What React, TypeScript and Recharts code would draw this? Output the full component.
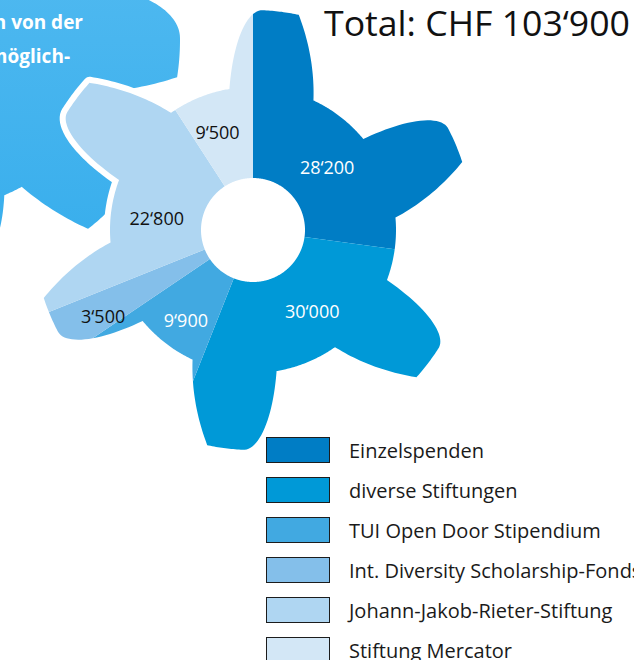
import React from 'react';
import { PieChart, Pie, Cell, Legend } from 'recharts';

const SOURCES = [
  'Einzelspenden',
  'diverse Stiftungen',
  'TUI Open Door Stipendium',
  'Int. Diversity Scholarship-Fonds',
  'Johann-Jakob-Rieter-Stiftung',
  'Stiftung Mercator',
];
const AMOUNTS = [28200, 30000, 9900, 3500, 22800, 9500];
const COLORS = ['#007dc5', '#0099d7', '#41a9e1', '#84bfea', '#afd6f2', '#d3e7f6'];
const LABEL_COLORS = ['#fff', '#fff', '#fff', '#111', '#111', '#111'];
// label nudges (degrees / px from centre), the original places them by hand
const LABEL_SHIFT = [1, -6, -2, -2, -10.5, -3.5];
const LABEL_RADIUS = [97, 100, 112, 173, 97, 104];

const fmt = (n: number) => String(n).replace(/\B(?=(\d{3})+(?!\d))/g, '‘');
const total = AMOUNTS.reduce((a, b) => a + b, 0);

const data = SOURCES.map((name, i) => ({ name, value: AMOUNTS[i] }));
const single = [{ name: 'gear', value: 1 }];

const RAD = Math.PI / 180;

type Profile = { period: number; rise: number; tip: number; fall: number; root: number; phase: number };

// main wheel: 6 teeth
const MAIN: Profile = { period: 60, rise: 12, tip: 9.5, fall: 13, root: 0.65, phase: -9.5 };
// the wheel in the back, top left (only partly on screen)
const BACK: Profile = { period: 43, rise: 18, tip: 9.4, fall: 9, root: 0.7, phase: 71.5 };

function gearR(deg: number, outer: number, p: Profile) {
  const u = ((((deg - p.phase) % p.period) + p.period) % p.period);
  const rootR = outer * p.root;
  const h = outer - rootR;
  if (u < p.rise) return rootR + h * Math.sin(((u / p.rise) * Math.PI) / 2);
  if (u < p.rise + p.tip) return outer;
  if (u < p.rise + p.tip + p.fall) return outer - (h * (u - p.rise - p.tip)) / p.fall;
  return rootR;
}

function gearPath(cx: number, cy: number, inner: number, outer: number, from: number, to: number, p: Profile) {
  const angles: number[] = [];
  const n = Math.max(2, Math.ceil((to - from) / 0.5));
  for (let i = 0; i <= n; i++) angles.push(from + ((to - from) * i) / n);
  const edges = [0, p.rise, p.rise + p.tip, p.rise + p.tip + p.fall];
  for (let k = -2; k < 360 / p.period + 2; k++) {
    edges.forEach((e) => {
      const a = p.phase + k * p.period + e;
      if (a > from && a < to) angles.push(a);
    });
  }
  angles.sort((a, b) => a - b);
  const pts: string[] = angles.map((a) => {
    const r = gearR(a, outer, p);
    return `${(cx + r * Math.sin(a * RAD)).toFixed(2)},${(cy - r * Math.cos(a * RAD)).toFixed(2)}`;
  });
  if (inner > 0) {
    for (let i = n; i >= 0; i--) {
      const a = from + ((to - from) * i) / n;
      pts.push(`${(cx + inner * Math.sin(a * RAD)).toFixed(2)},${(cy - inner * Math.cos(a * RAD)).toFixed(2)}`);
    }
  } else {
    pts.push(`${cx},${cy}`);
  }
  return 'M' + pts.join('L') + 'Z';
}

const makeGear = (p: Profile) => (props: any) => {
  const { cx, cy, innerRadius, outerRadius, startAngle, endAngle, fill, stroke, strokeWidth } = props;
  const d = gearPath(cx, cy, innerRadius, outerRadius, 90 - startAngle, 90 - endAngle, p);
  return <path d={d} fill={fill} stroke={stroke} strokeWidth={strokeWidth} strokeLinejoin="round" />;
};

const mainGear = makeGear(MAIN);
const backGear = makeGear(BACK);

const renderLabel = (props: any) => {
  const { cx, cy, midAngle, index } = props;
  const a = 90 - midAngle + LABEL_SHIFT[index];
  const r = LABEL_RADIUS[index];
  return (
    <text
      x={cx + r * Math.sin(a * RAD)}
      y={cy - r * Math.cos(a * RAD)}
      textAnchor="middle"
      dominantBaseline="central"
      fill={LABEL_COLORS[index]}
      fontSize={18}
      fontFamily="'Open Sans', sans-serif"
    >
      {fmt(AMOUNTS[index])}
    </text>
  );
};

const renderLegend = (props: any) => {
  const payload: any[] = props.payload || [];
  const rows = SOURCES.map((s, i) => {
    const hit = payload.find((p) => p.value === s);
    return { name: s, color: hit && hit.color ? hit.color : COLORS[i] };
  });
  return (
    <div style={{ fontFamily: "'Open Sans', sans-serif" }}>
      {rows.map((r) => (
        <div key={r.name} style={{ display: 'flex', alignItems: 'center', height: 40, whiteSpace: 'nowrap' }}>
          <div style={{ width: 62, height: 24, background: r.color, border: '1.5px solid #1c1c1c', marginRight: 19, flexShrink: 0 }} />
          <span style={{ fontSize: 20, color: '#1a1a1a' }}>{r.name}</span>
        </div>
      ))}
    </div>
  );
};

export default function App() {
  return (
    <div style={{ position: 'absolute', left: 0, top: 0, width: 634, height: 660, overflow: 'hidden', background: '#fff' }}>
      <PieChart width={634} height={660} margin={{ top: 0, right: 0, bottom: 0, left: 0 }}>
        <defs>
          <linearGradient id="bgGrad" x1="0" y1="0" x2="0" y2="1">
            <stop offset="0%" stopColor="#5cbff2" />
            <stop offset="100%" stopColor="#36adec" />
          </linearGradient>
        </defs>
        <Pie
          data={single}
          dataKey="value"
          cx={-60}
          cy={40}
          innerRadius={0}
          outerRadius={240}
          startAngle={90}
          endAngle={-270}
          stroke="none"
          legendType="none"
          shape={backGear}
          isAnimationActive={false}
        >
          <Cell fill="url(#bgGrad)" />
        </Pie>
        <Pie
          data={single}
          dataKey="value"
          cx={253}
          cy={230}
          innerRadius={52}
          outerRadius={220}
          startAngle={90}
          endAngle={-270}
          stroke="#fff"
          strokeWidth={12}
          legendType="none"
          shape={mainGear}
          isAnimationActive={false}
        >
          <Cell fill="#fff" />
        </Pie>
        <Pie
          data={data}
          dataKey="value"
          nameKey="name"
          cx={253}
          cy={230}
          innerRadius={52}
          outerRadius={220}
          startAngle={90}
          endAngle={-270}
          stroke="none"
          shape={mainGear}
          label={renderLabel}
          labelLine={false}
          isAnimationActive={false}
        >
          {data.map((d, i) => (
            <Cell key={d.name} fill={COLORS[i]} stroke="none" />
          ))}
        </Pie>
        <Legend
          layout="vertical"
          verticalAlign="top"
          align="right"
          content={renderLegend}
          wrapperStyle={{ position: 'absolute', left: 266, top: 430, width: 400, right: 'auto', bottom: 'auto' }}
        />
      </PieChart>
      <svg width={634} height={660} style={{ position: 'absolute', left: 0, top: 0, pointerEvents: 'none' }}>
        <text x={83} y={29} textAnchor="end" fill="#fff" fontSize={19} fontWeight={700} fontFamily="'Open Sans', sans-serif">
          n von der
        </text>
        <text x={70} y={63} textAnchor="end" fill="#fff" fontSize={19} fontWeight={700} fontFamily="'Open Sans', sans-serif">
          ermöglich-
        </text>
        <text x={324} y={36} fill="#111" fontSize={35} fontFamily="'Open Sans', sans-serif" textLength={306} lengthAdjust="spacingAndGlyphs">
          {'Total: CHF ' + fmt(total)}
        </text>
      </svg>
    </div>
  );
}
